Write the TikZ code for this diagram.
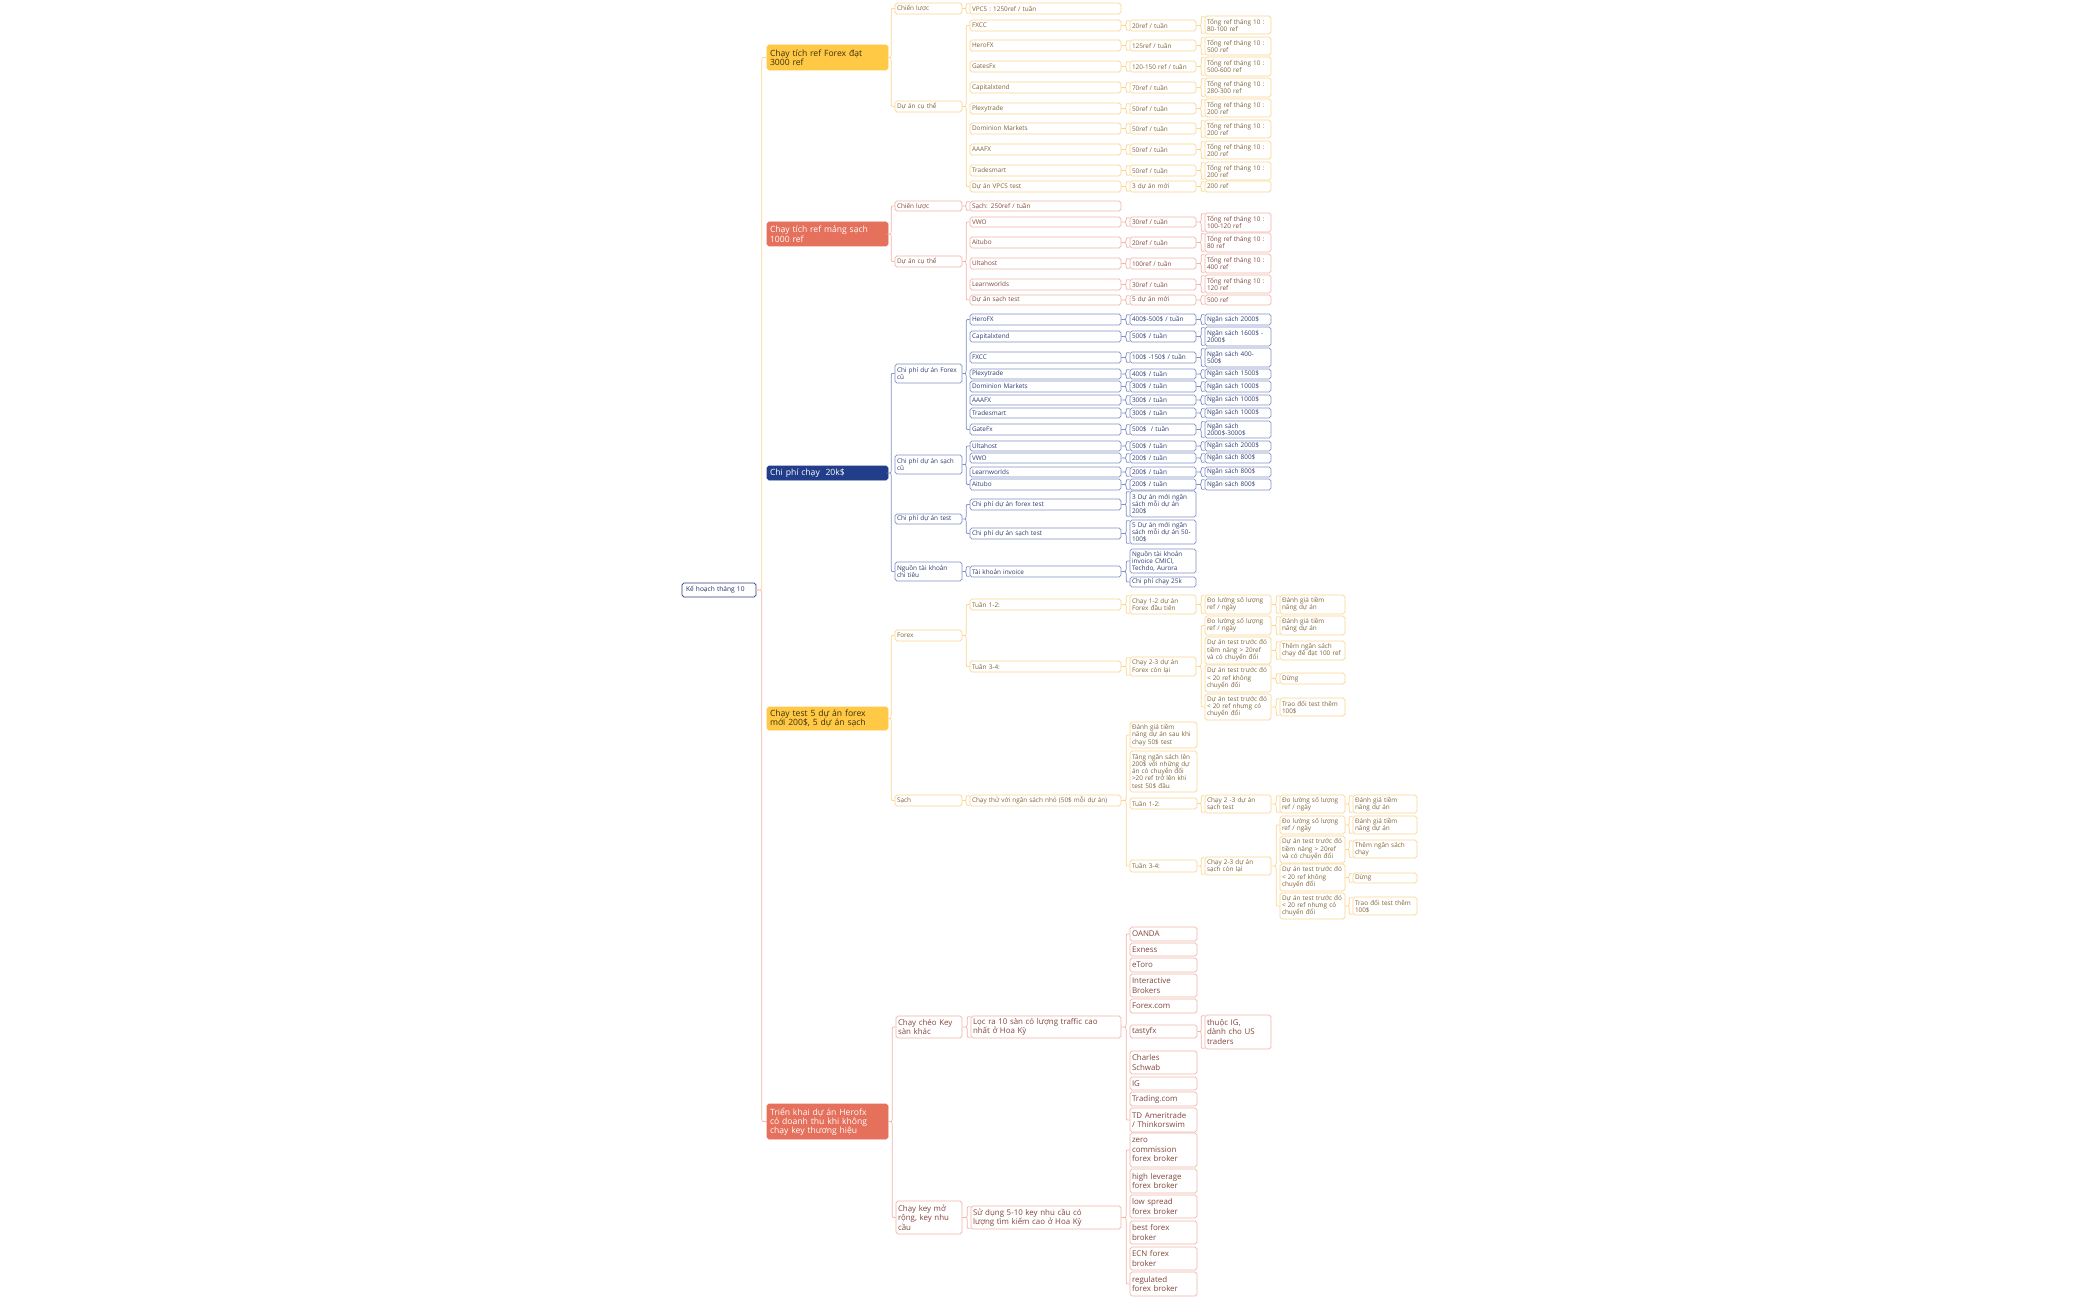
\documentclass[tikz,border=0pt]{standalone}
\usepackage{fontspec}
\setmainfont{Open Sans}
\usetikzlibrary{calc}
\definecolor{yF}{HTML}{FFC845}
\definecolor{yB}{HTML}{FAD690}
\definecolor{yT}{HTML}{806436}
\definecolor{yL}{HTML}{3B2F10}
\definecolor{rF}{HTML}{E5705B}
\definecolor{rB}{HTML}{F2B5A9}
\definecolor{rT}{HTML}{84463C}
\definecolor{nF}{HTML}{223D8A}
\definecolor{nB}{HTML}{8090C6}
\definecolor{nT}{HTML}{2E3B72}
\definecolor{rootB}{HTML}{2F3C82}
\newcommand\fs{\fontsize{6.4}{7.2}\selectfont}
\newcommand\fbig{\fontsize{7.9}{9.6}\selectfont}
\newcommand\fl{\fontsize{8.6}{9.2}\selectfont}
\newcommand\fr{\fontsize{6.6}{8}\selectfont}
\tikzset{
 nbox/.style={draw, rounded corners=1.8pt, line width=0.7pt, fill=white, inner xsep=2pt, inner ysep=0.3pt, align=left, font=\fs},
 yb/.style={nbox, draw=yB, text=yT},
 rb/.style={nbox, draw=rB, text=rT},
 nb/.style={nbox, draw=nB, text=nT},
 rbig/.style={rb, font=\fbig},
 l1y/.style={nbox, draw=yF, fill=yF, text=yL, font=\fl, inner xsep=3pt},
 l1r/.style={nbox, draw=rF, fill=rF, text=white, font=\fl, inner xsep=3pt},
 l1n/.style={nbox, draw=nF, fill=nF, text=white, font=\fl, inner xsep=3pt},
 rootbox/.style={nbox, draw=rootB, text=rootB!80!black, font=\fr, inner xsep=4pt},
 brcl/.style={line width=0.7pt}
}
\newcommand\bx[7]{%
 \pgfmathsetmacro\bxw{#4-#2}\pgfmathsetmacro\bxh{#5-#3}%
 \pgfmathsetmacro\bxcx{(#2+#4)/2}\pgfmathsetmacro\bxcy{(#3+#5)/2}%
 \node[#6, minimum width=\bxw pt, minimum height=\bxh pt, text width=\bxw pt-4pt] (#1) at (\bxcx,\bxcy) {#7};}
% brace: parent, first child, last child, colour
\newcommand\brc[4]{%
 \draw[brcl,#4] let \p1=(#2.west), \p2=(#3.west), \p3=(#1.east) in
 (\x1,\y1) .. controls (\x1-3.5pt,\y1) .. (\x1-3.5pt,\y1-3pt)
 -- (\x1-3.5pt,\y3+2.5pt) .. controls (\x1-3.5pt,\y3) .. (\x3,\y3)
 .. controls (\x1-3.5pt,\y3) .. (\x1-3.5pt,\y3-2.5pt)
 -- (\x2-3.5pt,\y2+3pt) .. controls (\x2-3.5pt,\y2) .. (\x2,\y2);}
% single-child brace: parent, child, colour
\newcommand\brs[3]{%
 \draw[brcl,#3] let \p1=(#2.north west), \p2=(#2.south west), \p3=(#1.east) in
 (\x1,\y1-1pt) .. controls (\x1-3.5pt,\y1-1pt) .. (\x1-3.5pt,\y1-3.5pt)
 -- (\x1-3.5pt,\y3+2pt) .. controls (\x1-3.5pt,\y3) .. (\x3,\y3)
 .. controls (\x1-3.5pt,\y3) .. (\x1-3.5pt,\y3-2pt)
 -- (\x2-3.5pt,\y2+3.5pt) .. controls (\x2-3.5pt,\y2+1pt) .. (\x2,\y2+1pt);}
\begin{document}
\begin{tikzpicture}[x=1pt,y=-1pt]
\fill[white] (0,0) rectangle (2099,1300);
\useasboundingbox (0,0) rectangle (2099,1300);
% root and level 1
\bx{r}{684}{583}{754}{597}{rootbox}{Kế hoạch tháng 10}
\bx{f1}{768}{45}{887}{70}{l1y}{Chạy tích ref Forex đạt\\3000 ref}
\bx{s1}{768}{222}{887}{246}{l1r}{Chạy tích ref mảng sạch\\1000 ref}
\bx{c1}{768}{466}{887}{480}{l1n}{Chi phí chạy~~20k\$}
\bx{t1}{768}{707}{887}{730}{l1y}{Chạy test 5 dự án forex\\mới 200\$, 5 dự án sạch}
\bx{k1}{768}{1104}{887}{1139}{l1r}{Triển khai dự án Herofx\\có doanh thu khi không\\chạy key thương hiệu}
% ================= Forex 3000 ref
\bx{f2a}{895}{3}{962}{14}{yb}{Chiến lược}
\bx{f2b}{895}{101}{962}{112}{yb}{Dự án cụ thể}
\bx{f3v}{970}{3}{1121}{14}{yb}{VPCS : 1250ref / tuần}
\bx{fa3}{970}{20}{1121}{31}{yb}{FXCC}
\bx{fa4}{1130}{20}{1196}{31}{yb}{20ref / tuần}
\bx{fa5}{1205}{16}{1271}{34}{yb}{Tổng ref tháng 10 :\\80-100 ref}
\bx{fb3}{970}{40}{1121}{51}{yb}{HeroFX}
\bx{fb4}{1130}{40}{1196}{51}{yb}{125ref / tuần}
\bx{fb5}{1205}{37}{1271}{55}{yb}{Tổng ref tháng 10 :\\500 ref}
\bx{fc3}{970}{61}{1121}{72}{yb}{GatesFx}
\bx{fc4}{1130}{61}{1196}{72}{yb}{120-150 ref / tuần}
\bx{fc5}{1205}{57}{1271}{76}{yb}{Tổng ref tháng 10 :\\500-600 ref}
\bx{fd3}{970}{82}{1121}{93}{yb}{Capitalxtend}
\bx{fd4}{1130}{82}{1196}{93}{yb}{70ref / tuần}
\bx{fd5}{1205}{78}{1271}{97}{yb}{Tổng ref tháng 10 :\\280-300 ref}
\bx{fe3}{970}{103}{1121}{114}{yb}{Plexytrade}
\bx{fe4}{1130}{103}{1196}{114}{yb}{50ref / tuần}
\bx{fe5}{1205}{99}{1271}{117}{yb}{Tổng ref tháng 10 :\\200 ref}
\bx{ff3}{970}{123}{1121}{134}{yb}{Dominion Markets}
\bx{ff4}{1130}{123}{1196}{134}{yb}{50ref / tuần}
\bx{ff5}{1205}{120}{1271}{138}{yb}{Tổng ref tháng 10 :\\200 ref}
\bx{fg3}{970}{144}{1121}{155}{yb}{AAAFX}
\bx{fg4}{1130}{144}{1196}{155}{yb}{50ref / tuần}
\bx{fg5}{1205}{141}{1271}{159}{yb}{Tổng ref tháng 10 :\\200 ref}
\bx{fh3}{970}{165}{1121}{176}{yb}{Tradesmart}
\bx{fh4}{1130}{165}{1196}{176}{yb}{50ref / tuần}
\bx{fh5}{1205}{162}{1271}{180}{yb}{Tổng ref tháng 10 :\\200 ref}
\bx{fi3}{970}{181}{1121}{192}{yb}{Dự án VPCS test}
\bx{fi4}{1130}{181}{1196}{192}{yb}{3 dự án mới}
\bx{fi5}{1205}{181}{1271}{192}{yb}{200 ref}
% ================= Sach 1000 ref
\bx{s2a}{895}{201}{962}{211}{rb}{Chiến lược}
\bx{s2b}{895}{256}{962}{267}{rb}{Dự án cụ thể}
\bx{s3v}{970}{201}{1121}{211}{rb}{Sạch: 250ref / tuần}
\bx{sa3}{970}{217}{1121}{227}{rb}{VWO}
\bx{sa4}{1130}{217}{1196}{227}{rb}{30ref / tuần}
\bx{sa5}{1205}{213}{1271}{232}{rb}{Tổng ref tháng 10 :\\100-120 ref}
\bx{sb3}{970}{237}{1121}{248}{rb}{Aitubo}
\bx{sb4}{1130}{237}{1196}{248}{rb}{20ref / tuần}
\bx{sb5}{1205}{233}{1271}{252}{rb}{Tổng ref tháng 10 :\\80 ref}
\bx{sc3}{970}{258}{1121}{269}{rb}{Ultahost}
\bx{sc4}{1130}{258}{1196}{269}{rb}{100ref / tuần}
\bx{sc5}{1205}{254}{1271}{273}{rb}{Tổng ref tháng 10 :\\400 ref}
\bx{sd3}{970}{279}{1121}{290}{rb}{Learnworlds}
\bx{sd4}{1130}{279}{1196}{290}{rb}{30ref / tuần}
\bx{sd5}{1205}{275}{1271}{293}{rb}{Tổng ref tháng 10 :\\120 ref}
\bx{se3}{970}{295}{1121}{305}{rb}{Dự án sạch test}
\bx{se4}{1130}{295}{1196}{305}{rb}{5 dự án mới}
\bx{se5}{1205}{295}{1271}{305}{rb}{500 ref}
% ================= Chi phi
\bx{c2a}{895}{364}{962}{383}{nb}{Chi phí dự án Forex\\cũ}
\bx{c2b}{895}{455}{962}{474}{nb}{Chi phí dự án sạch\\cũ}
\bx{c2c}{895}{514}{962}{524}{nb}{Chi phí dự án test}
\bx{c2d}{895}{562}{962}{581}{nb}{Nguồn tài khoản\\chi tiêu}
\bx{ca3}{970}{314}{1121}{325}{nb}{HeroFX}
\bx{ca4}{1130}{314}{1196}{325}{nb}{400\$-500\$ / tuần}
\bx{ca5}{1205}{314}{1271}{325}{nb}{Ngân sách 2000\$}
\bx{cb3}{970}{331}{1121}{342}{nb}{Capitalxtend}
\bx{cb4}{1130}{331}{1196}{342}{nb}{500\$ / tuần}
\bx{cb5}{1205}{327}{1271}{346}{nb}{Ngân sách 1600\$ -\\2000\$}
\bx{cc3}{970}{352}{1121}{363}{nb}{FXCC}
\bx{cc4}{1130}{352}{1196}{363}{nb}{100\$ -150\$ / tuần}
\bx{cc5}{1205}{348}{1271}{367}{nb}{Ngân sách 400-\\500\$}
\bx{cd3}{970}{369}{1121}{379}{nb}{Plexytrade}
\bx{cd4}{1130}{369}{1196}{379}{nb}{400\$ / tuần}
\bx{cd5}{1205}{369}{1271}{379}{nb}{Ngân sách 1500\$}
\bx{ce3}{970}{381}{1121}{392}{nb}{Dominion Markets}
\bx{ce4}{1130}{381}{1196}{392}{nb}{300\$ / tuần}
\bx{ce5}{1205}{381}{1271}{392}{nb}{Ngân sách 1000\$}
\bx{cf3}{970}{395}{1121}{405}{nb}{AAAFX}
\bx{cf4}{1130}{395}{1196}{405}{nb}{300\$ / tuần}
\bx{cf5}{1205}{395}{1271}{405}{nb}{Ngân sách 1000\$}
\bx{cg3}{970}{408}{1121}{418}{nb}{Tradesmart}
\bx{cg4}{1130}{408}{1196}{418}{nb}{300\$ / tuần}
\bx{cg5}{1205}{408}{1271}{418}{nb}{Ngân sách 1000\$}
\bx{ch3}{970}{424}{1121}{435}{nb}{GateFx}
\bx{ch4}{1130}{424}{1196}{435}{nb}{500\$~ / tuần}
\bx{ch5}{1205}{421}{1271}{438}{nb}{Ngân sách\\2000\$-3000\$}
\bx{ci3}{970}{441}{1121}{451}{nb}{Ultahost}
\bx{ci4}{1130}{441}{1196}{451}{nb}{500\$ / tuần}
\bx{ci5}{1205}{441}{1271}{451}{nb}{Ngân sách 2000\$}
\bx{cj3}{970}{453}{1121}{463}{nb}{VWO}
\bx{cj4}{1130}{453}{1196}{463}{nb}{200\$ / tuần}
\bx{cj5}{1205}{453}{1271}{463}{nb}{Ngân sách 800\$}
\bx{ck3}{970}{467}{1121}{477}{nb}{Learnworlds}
\bx{ck4}{1130}{467}{1196}{477}{nb}{200\$ / tuần}
\bx{ck5}{1205}{467}{1271}{477}{nb}{Ngân sách 800\$}
\bx{cl3}{970}{479}{1121}{490}{nb}{Aitubo}
\bx{cl4}{1130}{479}{1196}{490}{nb}{200\$ / tuần}
\bx{cl5}{1205}{479}{1271}{490}{nb}{Ngân sách 800\$}
\bx{cft}{970}{499}{1121}{510}{nb}{Chi phí dự án forex test}
\bx{cft4}{1130}{491}{1196}{517}{nb}{3 Dự án mới ngân\\sách mỗi dự án\\200\$}
\bx{cst}{970}{528}{1121}{539}{nb}{Chi phí dự án sạch test}
\bx{cst4}{1130}{520}{1196}{544}{nb}{5 Dự án mới ngân\\sách mỗi dự án 50-\\100\$}
\bx{cinv}{970}{566}{1121}{577}{nb}{Tài khoản invoice}
\bx{cinva}{1130}{549}{1196}{573}{nb}{Nguồn tài khoản\\invoice CMICl,\\Techdo, Aurora}
\bx{cinvb}{1130}{577}{1196}{587}{nb}{Chi phí chạy 25k}
% ================= Chay test
\bx{t2f}{895}{630}{962}{641}{yb}{Forex}
\bx{t2s}{895}{795}{962}{806}{yb}{Sạch}
\bx{t3f1}{970}{599}{1121}{610}{yb}{Tuần 1-2:}
\bx{t3f2}{970}{661}{1121}{672}{yb}{Tuần 3-4:}
\bx{t4f1}{1130}{595}{1196}{614}{yb}{Chạy 1-2 dự án\\Forex đầu tiên}
\bx{t4f2}{1130}{657}{1196}{676}{yb}{Chạy 2-3 dự án\\Forex còn lại}
\bx{t5f1}{1205}{595}{1271}{614}{yb}{Đo lường số lượng\\ref / ngày}
\bx{t6f1}{1280}{595}{1345}{614}{yb}{Đánh giá tiềm\\năng dự án}
\bx{t5fa}{1205}{616}{1271}{635}{yb}{Đo lường số lượng\\ref / ngày}
\bx{t6fa}{1280}{616}{1345}{635}{yb}{Đánh giá tiềm\\năng dự án}
\bx{t5fb}{1205}{637}{1271}{664}{yb}{Dự án test trước đó\\tiềm năng > 20ref\\và có chuyển đổi}
\bx{t6fb}{1280}{641}{1345}{660}{yb}{Thêm ngân sách\\chạy để đạt 100 ref}
\bx{t5fc}{1205}{665}{1271}{692}{yb}{Dự án test trước đó\\< 20 ref không\\chuyển đổi}
\bx{t6fc}{1280}{673}{1345}{684}{yb}{Dừng}
\bx{t5fd}{1205}{694}{1271}{720}{yb}{Dự án test trước đó\\< 20 ref nhưng có\\chuyển đổi}
\bx{t6fd}{1280}{698}{1345}{716}{yb}{Trao đổi test thêm\\100\$}
\bx{t3s}{970}{795}{1121}{806}{yb}{Chạy thử với ngân sách nhỏ (50\$ mỗi dự án)}
\bx{t4sa}{1130}{722}{1197}{748}{yb}{Đánh giá tiềm\\năng dự án sau khi\\chạy 50\$ test}
\bx{t4sb}{1130}{751}{1197}{792}{yb}{Tăng ngân sách lên\\200\$ với những dự\\án có chuyển đổi\\>20 ref trở lên khi\\test 50\$ đầu}
\bx{t4sc}{1130}{798}{1197}{809}{yb}{Tuần 1-2:}
\bx{t4sd}{1130}{860}{1197}{872}{yb}{Tuần 3-4:}
\bx{t5sc}{1205}{795}{1271}{813}{yb}{Chạy 2 -3 dự án\\sạch test}
\bx{t5sd}{1205}{857}{1271}{875}{yb}{Chạy 2-3 dự án\\sạch còn lại}
\bx{t6sc}{1280}{795}{1345}{813}{yb}{Đo lường số lượng\\ref / ngày}
\bx{t7sc}{1353}{795}{1417}{813}{yb}{Đánh giá tiềm\\năng dự án}
\bx{t6sa}{1280}{816}{1345}{834}{yb}{Đo lường số lượng\\ref / ngày}
\bx{t7sa}{1353}{816}{1417}{834}{yb}{Đánh giá tiềm\\năng dự án}
\bx{t6sb}{1280}{836}{1345}{863}{yb}{Dự án test trước đó\\tiềm năng > 20ref\\và có chuyển đổi}
\bx{t7sb}{1353}{840}{1417}{858}{yb}{Thêm ngân sách\\chạy}
\bx{t6sx}{1280}{864}{1345}{891}{yb}{Dự án test trước đó\\< 20 ref không\\chuyển đổi}
\bx{t7sx}{1353}{873}{1417}{883}{yb}{Dừng}
\bx{t6sd}{1280}{893}{1345}{919}{yb}{Dự án test trước đó\\< 20 ref nhưng có\\chuyển đổi}
\bx{t7sd}{1353}{897}{1417}{915}{yb}{Trao đổi test thêm\\100\$}
% ================= Trien khai
\bx{k2a}{896}{1016}{962}{1038}{rbig}{Chạy chéo Key\\sàn khác}
\bx{k2b}{896}{1201}{962}{1234}{rbig}{Chạy key mở\\rộng, key nhu\\cầu}
\bx{k3a}{971}{1016}{1121}{1038}{rbig}{Lọc ra 10 sàn có lượng traffic cao\\nhất ở Hoa Kỳ}
\bx{k3b}{971}{1206}{1121}{1229}{rbig}{Sử dụng 5-10 key nhu cầu có\\lượng tìm kiếm cao ở Hoa Kỳ}
\bx{ka}{1130}{927}{1197}{941}{rbig}{OANDA}
\bx{kb}{1130}{943}{1197}{956}{rbig}{Exness}
\bx{kc}{1130}{958}{1197}{972}{rbig}{eToro}
\bx{kd}{1130}{974}{1197}{997}{rbig}{Interactive\\Brokers}
\bx{ke}{1130}{999}{1197}{1013}{rbig}{Forex.com}
\bx{kf}{1130}{1025}{1197}{1038}{rbig}{tastyfx}
\bx{kf2}{1205}{1015}{1271}{1049}{rbig}{thuộc IG,\\dành cho US\\traders}
\bx{kg}{1130}{1051}{1197}{1074}{rbig}{Charles\\Schwab}
\bx{kh}{1130}{1077}{1197}{1090}{rbig}{IG}
\bx{ki}{1130}{1092}{1197}{1106}{rbig}{Trading.com}
\bx{kj}{1130}{1108}{1197}{1132}{rbig}{TD Ameritrade\\/ Thinkorswim}
\bx{la}{1130}{1133}{1197}{1167}{rbig}{zero\\commission\\forex broker}
\bx{lb}{1130}{1169}{1197}{1193}{rbig}{high leverage\\forex broker}
\bx{lc}{1130}{1195}{1197}{1218}{rbig}{low spread\\forex broker}
\bx{ld}{1130}{1221}{1197}{1244}{rbig}{best forex\\broker}
\bx{le}{1130}{1247}{1197}{1270}{rbig}{ECN forex\\broker}
\bx{lf}{1130}{1272}{1197}{1296}{rbig}{regulated\\forex broker}
% ================= braces
% root brace, upper part yellow, lower part pink
\draw[brcl,yB] let \p1=(f1.west), \p3=(r.east) in
 (\x1,\y1) .. controls (\x1-5pt,\y1) .. (\x1-5pt,\y1-3pt)
 -- (\x1-5pt,\y3+2.5pt) .. controls (\x1-5pt,\y3) .. (\x3,\y3);
\draw[brcl,rB] let \p2=(k1.west), \p3=(r.east) in
 (\x3,\y3) .. controls (\x2-5pt,\y3) .. (\x2-5pt,\y3-2.5pt)
 -- (\x2-5pt,\y2+3pt) .. controls (\x2-5pt,\y2) .. (\x2,\y2);
\brc{f1}{f2a}{f2b}{yB}
\brc{s1}{s2a}{s2b}{rB}
\brc{c1}{c2a}{c2d}{nB}
\brc{t1}{t2f}{t2s}{yB}
\brc{k1}{k2a}{k2b}{rB}
% forex
\brs{f2a}{f3v}{yB}
\brc{f2b}{fa3}{fi3}{yB}
\foreach \q in {a,b,c,d,e,f,g,h,i}{\brs{f\q3}{f\q4}{yB}\brs{f\q4}{f\q5}{yB}}
% sach
\brs{s2a}{s3v}{rB}
\brc{s2b}{sa3}{se3}{rB}
\foreach \q in {a,b,c,d,e}{\brs{s\q3}{s\q4}{rB}\brs{s\q4}{s\q5}{rB}}
% chi phi
\brc{c2a}{ca3}{ch3}{nB}
\brc{c2b}{ci3}{cl3}{nB}
\foreach \q in {a,b,c,d,e,f,g,h,i,j,k,l}{\brs{c\q3}{c\q4}{nB}\brs{c\q4}{c\q5}{nB}}
\brc{c2c}{cft}{cst}{nB}
\brs{cft}{cft4}{nB}
\brs{cst}{cst4}{nB}
\brs{c2d}{cinv}{nB}
\brc{cinv}{cinva}{cinvb}{nB}
% chay test
\brc{t2f}{t3f1}{t3f2}{yB}
\brs{t3f1}{t4f1}{yB}
\brs{t4f1}{t5f1}{yB}
\brs{t5f1}{t6f1}{yB}
\brs{t3f2}{t4f2}{yB}
\brc{t4f2}{t5fa}{t5fd}{yB}
\foreach \q in {a,b,c,d}{\brs{t5f\q}{t6f\q}{yB}}
\brs{t2s}{t3s}{yB}
\brc{t3s}{t4sa}{t4sd}{yB}
\brs{t4sc}{t5sc}{yB}
\brs{t5sc}{t6sc}{yB}
\brs{t6sc}{t7sc}{yB}
\brs{t4sd}{t5sd}{yB}
\brc{t5sd}{t6sa}{t6sd}{yB}
\foreach \q in {a,b,x,d}{\brs{t6s\q}{t7s\q}{yB}}
% trien khai
\brs{k2a}{k3a}{rB}
\brs{k2b}{k3b}{rB}
\brc{k3a}{ka}{kj}{rB}
\brs{kf}{kf2}{rB}
\brc{k3b}{la}{lf}{rB}
\end{tikzpicture}
\end{document}
